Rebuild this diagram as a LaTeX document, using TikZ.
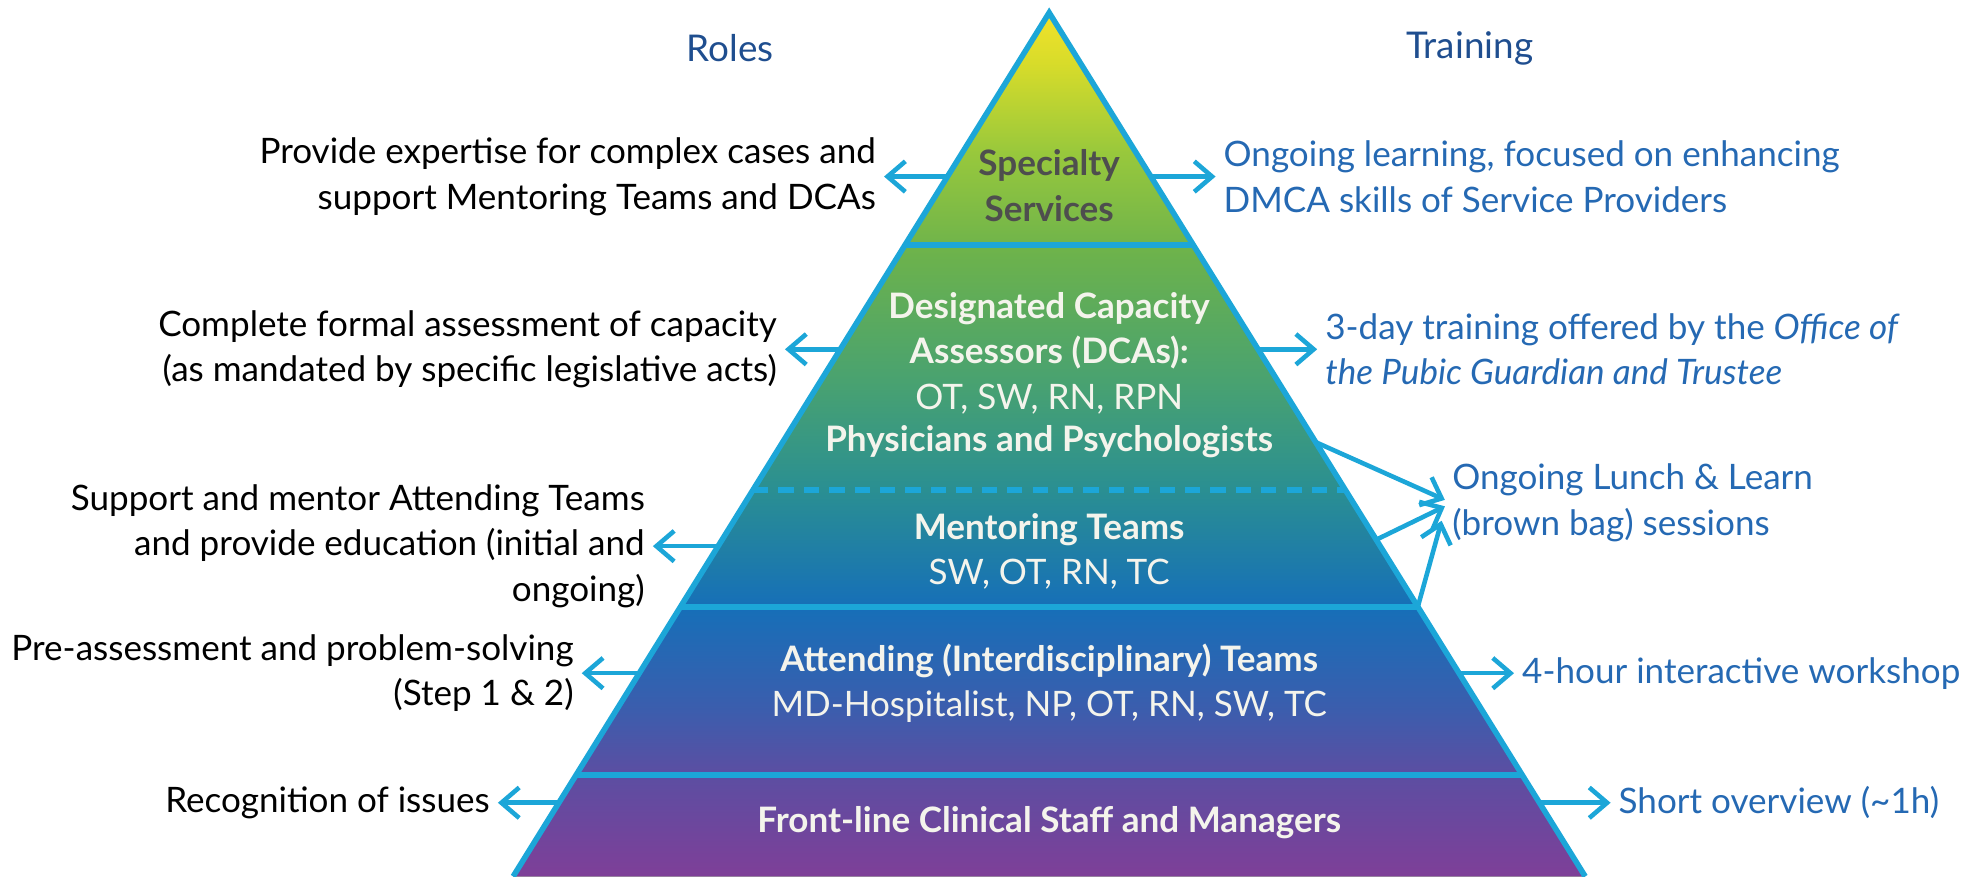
\documentclass[tikz,border=0pt]{standalone}
\usepackage{fontspec}
\setmainfont{Lato}
\usetikzlibrary{arrows.meta}
\definecolor{pyrline}{HTML}{1CA6D8}
\definecolor{headblue}{HTML}{1F4E8F}
\definecolor{trainblue}{HTML}{2569B3}
\definecolor{specgray}{HTML}{4E4E4E}
\definecolor{tiertext}{HTML}{F4F4EC}
\definecolor{pp0}{HTML}{7E3F98}
\definecolor{pp1}{HTML}{5C4EA2}
\definecolor{pp2}{HTML}{3C5DAD}
\definecolor{pp3}{HTML}{166FB8}
\definecolor{pp4}{HTML}{2A8F92}
\definecolor{pp5}{HTML}{49A270}
\definecolor{pp6}{HTML}{6CB24C}
\definecolor{pp7}{HTML}{98C83C}
\definecolor{pp8}{HTML}{D8DC2A}
\definecolor{pp9}{HTML}{F2E22A}
\pgfdeclareverticalshading{pyramidfill}{100bp}{color(0bp)=(pp0); color(25bp)=(pp0); color(30.9bp)=(pp1); color(34.6bp)=(pp2); color(40.6bp)=(pp3); color(47.4bp)=(pp4); color(53.7bp)=(pp5); color(61bp)=(pp6); color(66.9bp)=(pp7); color(72.1bp)=(pp8); color(75bp)=(pp9); color(100bp)=(pp9)}
\newcommand{\bodyfont}{\fontsize{13.8}{18}\selectfont}
\newcommand{\headfont}{\fontsize{14.5}{18}\selectfont}
\def\lx#1{826-0.62*(#1-10)}
\def\rx#1{826+0.62*(#1-10)}
\def\tierline[#1](#2){\draw[#1] ({\lx{#2}},#2) -- ({\rx{#2}},#2);}

\begin{document}
\begin{tikzpicture}[x=0.5pt,y=-0.5pt,
	role/.style={font=\bodyfont, align=right, anchor=east, inner sep=0pt},
	train/.style={font=\bodyfont, text=trainblue, align=left, anchor=west, inner sep=0pt},
	head/.style={font=\headfont, text=headblue},
	tier/.style={font=\bodyfont, text=tiertext, align=center},
	arr/.style={draw=pyrline, line width=1.8pt, -{Straight Barb[length=7pt,width=12pt,line width=1.8pt]}, shorten >=3pt}]
		%%%%% START %%%%%
		\useasboundingbox (0,0) rectangle (1562,690);
		
		\fill[shading=pyramidfill] (826,10) -- (1248,690) -- (404,690) -- cycle;
		\tierline[pyrline, line width=2.2pt](193)
		\tierline[pyrline, line width=2.2pt, dash pattern=on 6pt off 4pt](386)
		\tierline[pyrline, line width=2.2pt](478)
		\tierline[pyrline, line width=2.2pt](610)
		\draw[pyrline, line width=2.2pt] (404,690) -- (826,10) -- (1248,690);
		
		\node[head] (roles) at (575,38) {Roles};
		\node[head] (training) at (1157,38) {Training};
		
		\node[tier, text=specgray] (spec) at (826,146) {\textbf{Specialty}\\\textbf{Services}};
		\node[tier] (dca) at (826,278) {\textbf{Designated Capacity}\\\textbf{Assessors (DCAs):}\\OT, SW, RN, RPN};
		\node[tier] (phys) at (826,348) {\textbf{Physicians and Psychologists}};
		\node[tier] (ment) at (826,434) {\textbf{Mentoring Teams}\\SW, OT, RN, TC};
		\node[tier] (att) at (826,538) {\textbf{Attending (Interdisciplinary) Teams}\\MD-Hospitalist, NP, OT, RN, SW, TC};
		\node[tier] (front) at (826,648) {\textbf{Front-line Clinical Staff and Managers}};
		
		\node[role] (role1) at (690,139) {Provide expertise for complex cases and\\support Mentoring Teams and DCAs};
		\node[role] (role2) at (612,275) {Complete formal assessment of capacity\\(as mandated by specific legislative acts)};
		\node[role] (role3) at (508,430) {Support and mentor Attending Teams\\and provide education (initial and\\ongoing)};
		\node[role] (role4) at (452,530) {Pre-assessment and problem-solving\\(Step 1 \& 2)};
		\node[role] (role5) at (386,632) {Recognition of issues};
		
		\node[train] (train1) at (963,139) {Ongoing learning, focused on enhancing\\DMCA skills of Service Providers};
		\node[train] (train2) at (1043,275) {3-day training offered by the \textit{Office of}\\\textit{the Pubic Guardian and Trustee}};
		\node[train] (lunch) at (1143,396) {Ongoing Lunch \& Learn\\(brown bag) sessions};
		\node[train] (train4) at (1198,530) {4-hour interactive workshop};
		\node[train] (train5) at (1274,632) {Short overview (\textasciitilde1h)};
		
		\coordinate (l1) at ({\lx{139}},139);
		\coordinate (l2) at ({\lx{275}},275);
		\coordinate (l3) at ({\lx{430}},430);
		\coordinate (l4) at ({\lx{530}},530);
		\coordinate (l5) at ({\lx{632}},632);
		\coordinate (r1) at ({\rx{139}},139);
		\coordinate (r2) at ({\rx{275}},275);
		\coordinate (r4) at ({\rx{530}},530);
		\coordinate (r5) at ({\rx{632}},632);
		\coordinate (ra) at ({\rx{348}},348);
		\coordinate (rb) at ({\rx{425}},425);
		\coordinate (rc) at ({\rx{478}},478);
		\coordinate (lc) at (1135,410);
		
		\draw[arr] (l1) -- (role1.east);
		\draw[arr] (l2) -- (role2.east);
		\draw[arr] (l3) -- (role3.east);
		\draw[arr] (l4) -- (role4.east);
		\draw[arr] (l5) -- (role5.east);
		\draw[arr] (r1) -- (train1.west);
		\draw[arr] (r2) -- (train2.west);
		\draw[arr] (r4) -- (train4.west);
		\draw[arr] (r5) -- (train5.west);
		\draw[arr] (ra) -- (lunch.west);
		\draw[arr] (rb) -- (lunch.west);
		\draw[arr, shorten >=0pt] (rc) -- (lc);
		%%%%% END %%%%%
\end{tikzpicture}
\end{document}
